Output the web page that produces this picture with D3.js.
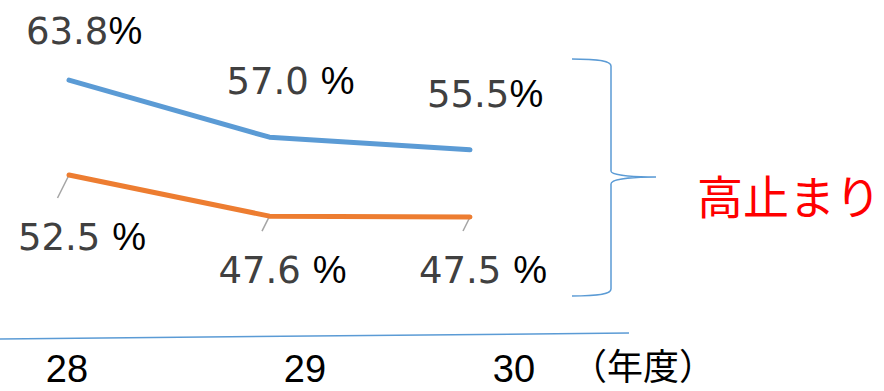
<!DOCTYPE html>
<html>
<head>
<meta charset="utf-8">
<script src="https://cdn.jsdelivr.net/npm/d3@7"></script>
<style>
  body { margin: 0; background: #fff; }
  svg { display: block; }
</style>
</head>
<body>
<div id="wrapper"></div>
<script>
// data
const years = [28, 29, 30]
const yearLabels = ["28", "29", "30"]
const unitLabel = "（年度）"
const blueValues = [63.8, 57.0, 55.5]
const orangeValues = [52.5, 47.6, 47.5]
// whether a space sits between the number and "%"
const blueGap = [false, true, false]
const orangeGap = [true, true, true]
const noteText = "高止まり"

// layout
const blueLabelDy = [-36, -43, -43]
const orangeLabelDy = [75, 67, 66]

const width = 884
const height = 391

const svg = d3.select("#wrapper")
  .append("svg")
    .attr("width", width)
    .attr("height", height)

// scales
const x = d3.scaleLinear()
  .domain([28, 30])
  .range([69, 470])

const y = d3.scaleLinear()
  .domain([30, 70])
  .range([364, 28])

// tick labels sit on their own positions (slide layout)
const xLabel = d3.scaleLinear()
  .domain([28, 29, 30])
  .range([67, 305, 514])

const line = d3.line()
  .x((d, i) => x(years[i]))
  .y(d => y(d))

// axis base line (slightly tilted in the slide)
svg.append("line")
    .attr("x1", 0).attr("y1", 339)
    .attr("x2", 629).attr("y2", 333)
    .attr("stroke", "#5b9bd5")
    .attr("stroke-width", 1.5)

// leader lines for the orange labels
svg.selectAll(".leader")
  .data(orangeValues)
  .join("line")
    .attr("class", "leader")
    .attr("x1", (d, i) => x(years[i]))
    .attr("y1", d => y(d))
    .attr("x2", (d, i) => x(years[i]) - (orangeLabelDy[i] - 52) * 0.5)
    .attr("y2", (d, i) => y(d) + orangeLabelDy[i] - 52)
    .attr("stroke", "#a6a6a6")
    .attr("stroke-width", 1.5)

// series lines
svg.append("path")
    .datum(blueValues)
    .attr("d", line)
    .attr("fill", "none")
    .attr("stroke", "#5b9bd5")
    .attr("stroke-width", 5)
    .attr("stroke-linecap", "round")
    .attr("stroke-linejoin", "round")

svg.append("path")
    .datum(orangeValues)
    .attr("d", line)
    .attr("fill", "none")
    .attr("stroke", "#ed7d31")
    .attr("stroke-width", 5)
    .attr("stroke-linecap", "round")
    .attr("stroke-linejoin", "round")

// data labels
function drawLabels(values, gaps, dys, dx, cls) {
  const t = svg.selectAll("." + cls)
    .data(values)
    .join("text")
      .attr("class", cls)
      .attr("x", (d, i) => x(years[i]) + dx)
      .attr("y", (d, i) => y(d) + dys[i])
      .attr("xml:space", "preserve")
  t.append("tspan")
      .attr("font-family", "DejaVu Sans")
      .attr("font-size", 37)
      .attr("fill", "#404040")
      .text((d, i) => d3.format(".1f")(d) + (gaps[i] ? " " : ""))
  t.append("tspan")
      .attr("font-family", "Liberation Sans")
      .attr("font-size", 38)
      .attr("fill", "#000")
      .text("%")
}
drawLabels(blueValues, blueGap, blueLabelDy, -43, "blue-label")
drawLabels(orangeValues, orangeGap, orangeLabelDy, -51, "orange-label")

// x tick labels
svg.selectAll(".tick-label")
  .data(years)
  .join("text")
    .attr("class", "tick-label")
    .attr("x", d => xLabel(d))
    .attr("y", 382)
    .attr("text-anchor", "middle")
    .attr("font-family", "Liberation Sans")
    .attr("font-size", 38)
    .attr("fill", "#000")
    .text((d, i) => yearLabels[i])

svg.append("text")
    .attr("x", 571)
    .attr("y", 380)
    .attr("font-family", "Noto Sans CJK JP")
    .attr("font-size", 36)
    .attr("fill", "#000")
    .text(unitLabel)

// brace
const bx = 572, spine = 611, tip = 656
const braceTop = 59, braceMid = 177, braceBottom = 296
svg.append("path")
    .attr("d", `M${bx},${braceTop} C600,${braceTop} ${spine},${braceTop + 2} ${spine},${braceTop + 7}
      L${spine},${braceMid - 6} C${spine},${braceMid - 1} 640,${braceMid} ${tip},${braceMid}
      C640,${braceMid} ${spine},${braceMid + 1} ${spine},${braceMid + 7}
      L${spine},${braceBottom - 7} C${spine},${braceBottom - 2} 600,${braceBottom} ${bx},${braceBottom}`)
    .attr("fill", "none")
    .attr("stroke", "#5b9bd5")
    .attr("stroke-width", 1.5)

svg.append("text")
    .attr("x", 697)
    .attr("y", 214)
    .attr("font-family", "Noto Sans CJK JP")
    .attr("font-size", 46)
    .attr("fill", "#ff0000")
    .text(noteText)
</script>
</body>
</html>
